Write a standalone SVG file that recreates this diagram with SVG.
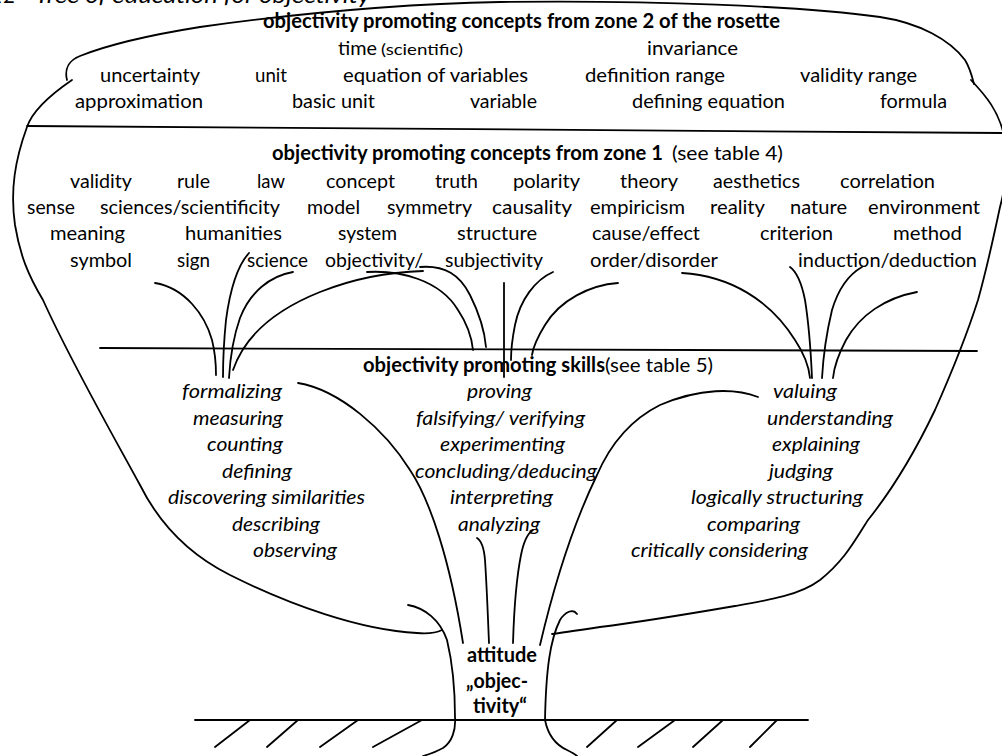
<svg xmlns="http://www.w3.org/2000/svg" width="1002" height="756" viewBox="0 0 1002 756">
  <style>
    text { font-family: Lato, "Liberation Sans", sans-serif; font-size: 20px; fill: #000; }
    .b { font-weight: bold; }
    .i { font-style: italic; }
    .sm { font-size: 15px; }
    .cap { font-size: 22px; font-style: italic; }
    .ln { fill: none; stroke: #000; stroke-width: 1.8; stroke-linecap: round; }
  </style>
  <rect width="1002" height="756" fill="#fff"/>

  <!-- caption, partly above the top edge -->
  <g id="caption">
    <text class="cap" x="16" y="3" text-anchor="end">12</text>
    <text class="cap" x="35" y="3" textLength="335" lengthAdjust="spacingAndGlyphs">Tree of education for objectivity</text>
  </g>

  <!-- crown outline, dividing lines and ground -->
  <g id="outline">
    <path class="ln" d="M67,80 C64,68 70,60 80,56 C110,44 150,35 200,27 C300,13 400,4 500,2 C650,0 800,6 880,17 C920,23 950,40 965,60 C970,68 972,76 974,84"/>
    <path class="ln" d="M971,80 C986,96 998,110 1004,135 C1009,160 1006,185 1000,207 C993,240 985,275 978,300 C970,325 955,365 935,410 C915,452 892,490 868,520 C855,540 845,560 820,580 C800,595 770,600 735,606 C700,612 640,622 600,627 C580,630 560,633 552,634"/>
    <path class="ln" d="M72,80 C50,95 32,112 27,127 C15,160 10,190 15,225 C20,255 28,275 43,300 C70,360 110,430 140,485 C160,525 190,555 230,575 C290,605 360,630 417,633 C430,634 438,632 442,630"/>
    <path class="ln" d="M27,126 L1002,133"/>
    <path class="ln" d="M100,348 L977,351"/>
    <path class="ln" d="M195,720 L808,720"/>
    <path class="ln" d="M250,720 L215,747 M298,720 L267,747 M358,720 L320,747 M422,720 L373,747 M617,720 L587,747 M675,720 L638,747 M723,720 L693,747 M777,720 L750,747"/>
  </g>

  <!-- trunk, roots and rootlets -->
  <g id="connectors">
    <path class="ln" d="M408,605 C425,608 440,620 447,640 C453,665 455,690 455,717 C456,730 452,742 443,748 C436,752 430,754 423,756"/>
    <path class="ln" d="M577,614 C573,608 565,612 560,620 C550,640 546,670 545,720 C548,735 556,745 567,750 C571,752 575,754 577,756"/>
    <path class="ln" d="M298,383 C340,390 385,430 410,470 C430,500 450,560 463,643"/>
    <path class="ln" d="M477,538 C482,541 484,548 485,560 C487,590 488,620 489,643"/>
    <path class="ln" d="M533,530 C528,533 524,540 521,555 C516,580 514,610 513,643"/>
    <path class="ln" d="M758,397 C735,388 700,388 660,405 C630,420 610,445 597,475 C580,510 560,560 540,645"/>
    <path class="ln" d="M155,283 C185,288 205,315 212,340 C215,352 216,365 216,375"/>
    <path class="ln" d="M249,253 C238,265 230,290 226,320 C224,340 223,360 223,377"/>
    <path class="ln" d="M293,272 C270,276 250,292 240,318 C233,338 230,360 229,378"/>
    <path class="ln" d="M233,370 C245,335 275,310 320,292 C355,278 390,272 423,271"/>
    <path class="ln" d="M367,272 C400,270 440,280 458,310 C468,325 472,340 473,350"/>
    <path class="ln" d="M420,267 C445,265 460,275 470,295 C480,315 485,335 486,347"/>
    <path class="ln" d="M504,283 L504,377"/>
    <path class="ln" d="M553,272 C535,280 520,300 515,325 C512,340 511,350 511,360"/>
    <path class="ln" d="M618,283 C590,285 560,300 545,325 C537,338 533,348 532,355"/>
    <path class="ln" d="M682,273 C730,276 770,300 795,340 C805,355 809,368 810,378"/>
    <path class="ln" d="M790,267 C797,272 802,285 805,300 C809,325 811,355 812,378"/>
    <path class="ln" d="M862,267 C848,275 838,290 832,310 C826,335 823,360 822,378"/>
    <path class="ln" d="M917,292 C885,298 860,315 846,340 C838,355 834,368 833,378"/>
  </g>

  <!-- zone 2 concepts -->
  <g id="zone2">
    <text class="b" x="263" y="28" textLength="517" lengthAdjust="spacingAndGlyphs">objectivity promoting concepts from zone 2 of the rosette</text>
    <text x="338" y="55" textLength="39" lengthAdjust="spacingAndGlyphs">time</text>
    <text class="sm" x="381" y="55" textLength="82" lengthAdjust="spacingAndGlyphs">(scientific)</text>
    <text x="647" y="55" textLength="91" lengthAdjust="spacingAndGlyphs">invariance</text>
    <text x="100" y="82" textLength="100" lengthAdjust="spacingAndGlyphs">uncertainty</text>
    <text x="255" y="82" textLength="32" lengthAdjust="spacingAndGlyphs">unit</text>
    <text x="343" y="82" textLength="185" lengthAdjust="spacingAndGlyphs">equation of variables</text>
    <text x="585" y="82" textLength="140" lengthAdjust="spacingAndGlyphs">definition range</text>
    <text x="800" y="82" textLength="117" lengthAdjust="spacingAndGlyphs">validity range</text>
    <text x="75" y="108" textLength="128" lengthAdjust="spacingAndGlyphs">approximation</text>
    <text x="292" y="108" textLength="83" lengthAdjust="spacingAndGlyphs">basic unit</text>
    <text x="470" y="108" textLength="67" lengthAdjust="spacingAndGlyphs">variable</text>
    <text x="632" y="108" textLength="153" lengthAdjust="spacingAndGlyphs">defining equation</text>
    <text x="880" y="108" textLength="67" lengthAdjust="spacingAndGlyphs">formula</text>
  </g>

  <!-- zone 1 concepts -->
  <g id="zone1">
    <text class="b" x="272" y="160" textLength="391" lengthAdjust="spacingAndGlyphs">objectivity promoting concepts from zone 1</text>
    <text x="672" y="160" textLength="111" lengthAdjust="spacingAndGlyphs">(see table  4)</text>
    <text x="70" y="188" textLength="62" lengthAdjust="spacingAndGlyphs">validity</text>
    <text x="177" y="188" textLength="33" lengthAdjust="spacingAndGlyphs">rule</text>
    <text x="257" y="188" textLength="28" lengthAdjust="spacingAndGlyphs">law</text>
    <text x="326" y="188" textLength="69" lengthAdjust="spacingAndGlyphs">concept</text>
    <text x="435" y="188" textLength="43" lengthAdjust="spacingAndGlyphs">truth</text>
    <text x="513" y="188" textLength="67" lengthAdjust="spacingAndGlyphs">polarity</text>
    <text x="620" y="188" textLength="58" lengthAdjust="spacingAndGlyphs">theory</text>
    <text x="713" y="188" textLength="87" lengthAdjust="spacingAndGlyphs">aesthetics</text>
    <text x="840" y="188" textLength="95" lengthAdjust="spacingAndGlyphs">correlation</text>
    <text x="27" y="214" textLength="48" lengthAdjust="spacingAndGlyphs">sense</text>
    <text x="100" y="214" textLength="180" lengthAdjust="spacingAndGlyphs">sciences/scientificity</text>
    <text x="307" y="214" textLength="53" lengthAdjust="spacingAndGlyphs">model</text>
    <text x="387" y="214" textLength="85" lengthAdjust="spacingAndGlyphs">symmetry</text>
    <text x="492" y="214" textLength="80" lengthAdjust="spacingAndGlyphs">causality</text>
    <text x="590" y="214" textLength="95" lengthAdjust="spacingAndGlyphs">empiricism</text>
    <text x="710" y="214" textLength="55" lengthAdjust="spacingAndGlyphs">reality</text>
    <text x="790" y="214" textLength="57" lengthAdjust="spacingAndGlyphs">nature</text>
    <text x="868" y="214" textLength="112" lengthAdjust="spacingAndGlyphs">environment</text>
    <text x="50" y="240" textLength="75" lengthAdjust="spacingAndGlyphs">meaning</text>
    <text x="185" y="240" textLength="97" lengthAdjust="spacingAndGlyphs">humanities</text>
    <text x="338" y="240" textLength="59" lengthAdjust="spacingAndGlyphs">system</text>
    <text x="457" y="240" textLength="80" lengthAdjust="spacingAndGlyphs">structure</text>
    <text x="592" y="240" textLength="108" lengthAdjust="spacingAndGlyphs">cause/effect</text>
    <text x="760" y="240" textLength="73" lengthAdjust="spacingAndGlyphs">criterion</text>
    <text x="893" y="240" textLength="69" lengthAdjust="spacingAndGlyphs">method</text>
    <text x="70" y="267" textLength="62" lengthAdjust="spacingAndGlyphs">symbol</text>
    <text x="177" y="267" textLength="33" lengthAdjust="spacingAndGlyphs">sign</text>
    <text x="247" y="267" textLength="61" lengthAdjust="spacingAndGlyphs">science</text>
    <text x="325" y="267" textLength="98" lengthAdjust="spacingAndGlyphs">objectivity/</text>
    <text x="445" y="267" textLength="98" lengthAdjust="spacingAndGlyphs">subjectivity</text>
    <text x="590" y="267" textLength="128" lengthAdjust="spacingAndGlyphs">order/disorder</text>
    <text x="798" y="267" textLength="179" lengthAdjust="spacingAndGlyphs">induction/deduction</text>
  </g>

  <!-- skills -->
  <g id="skills">
    <text class="b" x="363" y="372" textLength="242" lengthAdjust="spacingAndGlyphs">objectivity promoting skills</text>
    <text x="605" y="372" textLength="108" lengthAdjust="spacingAndGlyphs">(see table 5)</text>
    <text class="i" x="182" y="398" textLength="100" lengthAdjust="spacingAndGlyphs">formalizing</text>
    <text class="i" x="193" y="425" textLength="90" lengthAdjust="spacingAndGlyphs">measuring</text>
    <text class="i" x="207" y="451" textLength="76" lengthAdjust="spacingAndGlyphs">counting</text>
    <text class="i" x="222" y="478" textLength="70" lengthAdjust="spacingAndGlyphs">defining</text>
    <text class="i" x="168" y="504" textLength="197" lengthAdjust="spacingAndGlyphs">discovering similarities</text>
    <text class="i" x="232" y="531" textLength="88" lengthAdjust="spacingAndGlyphs">describing</text>
    <text class="i" x="253" y="557" textLength="84" lengthAdjust="spacingAndGlyphs">observing</text>
    <text class="i" x="467" y="398" textLength="65" lengthAdjust="spacingAndGlyphs">proving</text>
    <text class="i" x="416" y="425" textLength="169" lengthAdjust="spacingAndGlyphs">falsifying/ verifying</text>
    <text class="i" x="440" y="451" textLength="125" lengthAdjust="spacingAndGlyphs">experimenting</text>
    <text class="i" x="415" y="478" textLength="182" lengthAdjust="spacingAndGlyphs">concluding/deducing</text>
    <text class="i" x="450" y="504" textLength="103" lengthAdjust="spacingAndGlyphs">interpreting</text>
    <text class="i" x="458" y="531" textLength="82" lengthAdjust="spacingAndGlyphs">analyzing</text>
    <text class="i" x="773" y="398" textLength="64" lengthAdjust="spacingAndGlyphs">valuing</text>
    <text class="i" x="767" y="425" textLength="126" lengthAdjust="spacingAndGlyphs">understanding</text>
    <text class="i" x="772" y="451" textLength="88" lengthAdjust="spacingAndGlyphs">explaining</text>
    <text class="i" x="769" y="478" textLength="64" lengthAdjust="spacingAndGlyphs">judging</text>
    <text class="i" x="691" y="504" textLength="172" lengthAdjust="spacingAndGlyphs">logically structuring</text>
    <text class="i" x="707" y="531" textLength="93" lengthAdjust="spacingAndGlyphs">comparing</text>
    <text class="i" x="631" y="557" textLength="177" lengthAdjust="spacingAndGlyphs">critically considering</text>
  </g>

  <!-- attitude at the trunk -->
  <g id="attitude">
    <text class="b" x="467" y="662" textLength="70" lengthAdjust="spacingAndGlyphs">attitude</text>
    <text class="b" x="466" y="688" textLength="62" lengthAdjust="spacingAndGlyphs">„objec-</text>
    <text class="b" x="473" y="713" textLength="54" lengthAdjust="spacingAndGlyphs">tivity“</text>
  </g>
</svg>
